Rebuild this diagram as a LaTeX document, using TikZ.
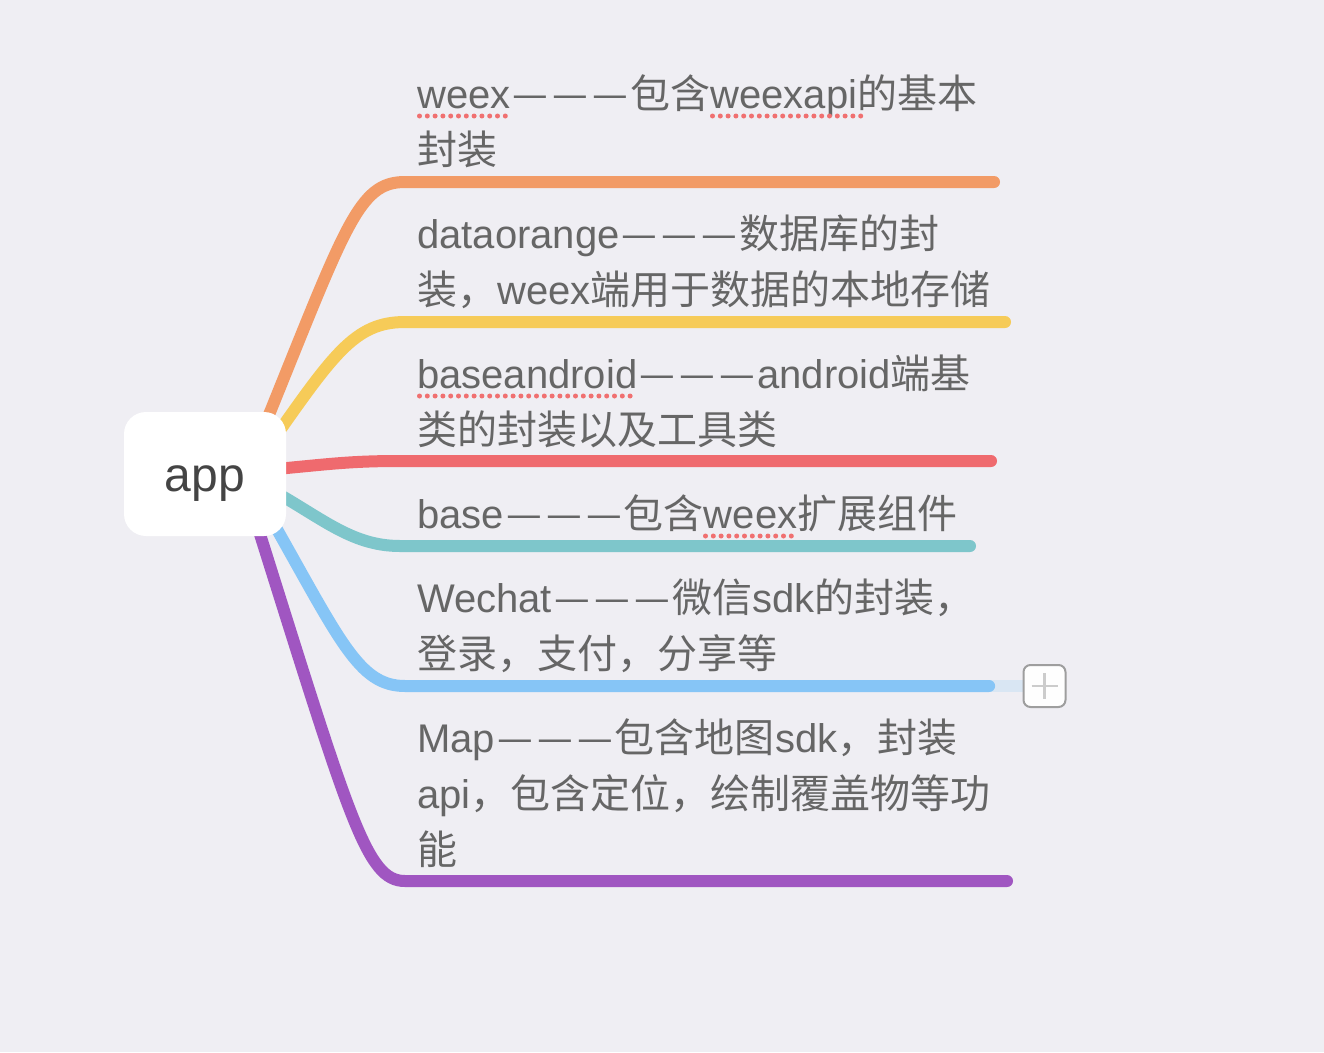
\documentclass[tikz,border=0pt]{standalone}
\usepackage{fontspec}
\setmainfont{Liberation Sans}
\newfontfamily\cjk{Noto Sans CJK SC}
\usetikzlibrary{backgrounds,calc}
\newcommand\C[1]{{\cjk #1}}
\newcommand\D{\makebox[40pt]{\cjk —}}
\definecolor{bgc}{HTML}{EFEEF3}
\definecolor{txtc}{HTML}{666666}
\definecolor{appc}{HTML}{444444}
\definecolor{corange}{HTML}{F29B66}
\definecolor{cyellow}{HTML}{F6CB58}
\definecolor{cred}{HTML}{EF6A6E}
\definecolor{cteal}{HTML}{7EC6CB}
\definecolor{cblue}{HTML}{86C5F6}
\definecolor{cpurple}{HTML}{A056C1}
\definecolor{cfade}{HTML}{D9E6F3}
\definecolor{cdot}{HTML}{F07070}
\begin{document}
\begin{tikzpicture}[x=1pt,y=-1pt,
  branch/.style={line width=12pt,line cap=round,line join=round},
  txt/.style={anchor=base west,inner sep=0pt,text=txtc,font=\fontsize{40}{48}\selectfont},
  spell/.style={cdot,line width=5pt,line cap=round,dash pattern=on 0pt off 7.8pt},
  rootbox/.style={fill=white,rounded corners=22pt,minimum width=162pt,minimum height=124pt,inner sep=0pt,
    text=appc,font=\fontsize{48}{56}\selectfont,text height=34pt,text depth=0pt},
  plusbox/.style={draw=black!38,line width=2pt,fill=white!94!bgc,rounded corners=7pt,minimum width=42pt,minimum height=42pt,inner sep=0pt}]
\useasboundingbox (0,0) rectangle (1324,1052);

% root
\node[rootbox] (app) at (205,474) {app};

% branch coordinates
\coordinate (s1) at (262,432); \coordinate (b1) at (405,182); \coordinate (e1) at (994,182);
\coordinate (s2) at (266,450); \coordinate (b2) at (405,322); \coordinate (e2) at (1005,322);
\coordinate (s3) at (266,470); \coordinate (b3) at (400,461); \coordinate (e3) at (991,461);
\coordinate (s4) at (266,487); \coordinate (b4) at (400,546); \coordinate (e4) at (970,546);
\coordinate (s5) at (266,510); \coordinate (b5) at (405,686); \coordinate (e5) at (989,686);
\coordinate (s6) at (253,512); \coordinate (b6) at (405,881); \coordinate (e6) at (1007,881);

\node[plusbox] (plus) at (1044.5,686) {};
\draw[black!20,line width=2.5pt] ($(plus.center)+(-13,0)$) -- ($(plus.center)+(13,0)$);
\draw[black!20,line width=2.5pt] ($(plus.center)+(0,-13)$) -- ($(plus.center)+(0,13)$);

\begin{scope}[on background layer]
\fill[bgc] (0,0) rectangle (1324,1052);
\draw[branch,corange] (s1) .. controls (346,225) and (358,182) .. (b1) -- (e1);
\draw[branch,cyellow] (s2) .. controls (333,355) and (354,322) .. (b2) -- (e2);
\draw[branch,cred] (s3) .. controls (330,464) and (350,461) .. (b3) -- (e3);
\draw[branch,cteal] (s4) .. controls (320,516) and (350,546) .. (b4) -- (e4);
\draw[branch,cblue] (s5) .. controls (340,640) and (358,686) .. (b5) -- (e5);
\draw[branch,cpurple] (s6) .. controls (350,820) and (366,881) .. (b6) -- (e6);
\draw[cfade,line width=12pt] (e5) -- (plus.west);
\draw[branch,cblue] (e5) -- ++(0.1,0);
\end{scope}

% texts
\node[txt] (t1a) at (417,108) {weex\D\D\D\C{包含}weexapi\C{的基本}};
\node[txt] (t1b) at (417,164) {\C{封装}};
\node[txt] (t2a) at (417,248) {dataorange\D\D\D\C{数据库的封}};
\node[txt] (t2b) at (417,304) {\C{装，}weex\C{端用于数据的本地存储}};
\node[txt] (t3a) at (417,388) {baseandroid\D\D\D{}android\C{端基}};
\node[txt] (t3b) at (417,444) {\C{类的封装以及工具类}};
\node[txt] (t4a) at (417,528) {base\D\D\D\C{包含}weex\C{扩展组件}};
\node[txt] (t5a) at (417,612) {Wechat\D\D\D\C{微信}sdk\C{的封装，}};
\node[txt] (t5b) at (417,668) {\C{登录，支付，分享等}};
\node[txt] (t6a) at (417,752) {Map\D\D\D\C{包含地图}sdk\C{，封装}};
\node[txt] (t6b) at (417,808) {api\C{，包含定位，绘制覆盖物等功}};
\node[txt] (t6c) at (417,864) {\C{能}};

% spell-check underlines
\draw[spell] (419.5,116) -- (510,116);
\draw[spell] (712.5,116) -- (861,116);
\draw[spell] (419.5,396) -- (637,396);
\draw[spell] (705.5,536) -- (797,536);
\end{tikzpicture}
\end{document}
